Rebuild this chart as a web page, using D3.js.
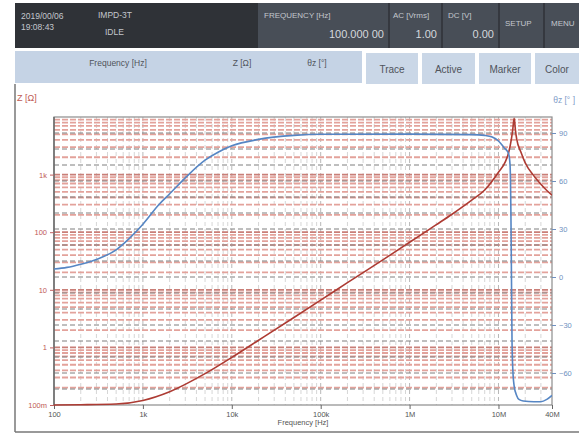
<!DOCTYPE html>
<html>
<head>
<meta charset="utf-8">
<script src="https://cdn.jsdelivr.net/npm/d3@7"></script>
<style>
  body { margin: 0; background: #fff; }
  svg { display: block; font-family: "Liberation Sans", Arial, sans-serif; }
</style>
</head>
<body>
<div id="chart"></div>
<script>
// values
const freqTicks = [100, 1e3, 1e4, 1e5, 1e6, 1e7, 4e7];
const freqTickLabels = ["100", "1k", "10k", "100k", "1M", "10M", "40M"];
const zTicks = [0.1, 1, 10, 100, 1000];
const zTickLabels = ["100m", "1", "10", "100", "1k"];
const thetaTicks = [-60, -30, 0, 30, 60, 90];

const zFreq = [100, 200, 500, 1e3, 2e3, 5e3, 1e4, 2e4, 5e4, 1e5, 2e5, 5e5, 1e6, 2e6, 3e6, 5e6, 7e6, 1e7, 1.2e7, 1.3e7, 1.4e7, 1.45e7, 1.5e7, 1.55e7, 1.6e7, 1.8e7, 2e7, 2.5e7, 3e7, 3.5e7, 4e7];
const zValues = [0.100, 0.101, 0.104, 0.12, 0.17, 0.35, 0.67, 1.33, 3.3, 6.6, 13.3, 33, 67, 135, 205, 360, 540, 1100, 1700, 2400, 4200, 6200, 9500, 6000, 4200, 2400, 1600, 950, 680, 530, 440];

const thetaFreq = [100, 140, 200, 300, 500, 700, 1e3, 1.5e3, 2e3, 3e3, 5e3, 7e3, 1e4, 2e4, 5e4, 1e5, 1e6, 5e6, 7e6, 8.5e6, 1e7, 1.15e7, 1.3e7, 1.35e7, 1.38e7, 1.4e7, 1.42e7, 1.45e7, 1.5e7, 1.6e7, 1.7e7, 1.9e7, 2.5e7, 3e7, 3.5e7, 4e7];
const thetaValues = [5, 6, 8, 11, 17, 24, 33, 45, 52, 62, 73, 78, 82, 86, 88.5, 89.2, 89.3, 89, 88.5, 87.5, 85, 81, 77, 70, 40, 0, -40, -58, -68, -74, -76.5, -77.5, -78, -78, -76.5, -74];

const W = 579, H = 434;
const svg = d3.select("#chart").append("svg")
  .attr("width", W)
  .attr("height", H);

// ---------- header bar ----------
const hdr = svg.append("g");
hdr.append("rect").attr("x", 15).attr("y", 3).attr("width", 243).attr("height", 45).attr("fill", "#2f3237");
hdr.append("rect").attr("x", 258).attr("y", 3).attr("width", W - 258).attr("height", 45).attr("fill", "#484e57");
[389, 442, 499, 544].forEach(x => {
  hdr.append("line").attr("x1", x).attr("x2", x).attr("y1", 3).attr("y2", 48)
    .attr("stroke", "#2f3237").attr("stroke-width", 1.5);
});

const hdrText = [
  { t: "2019/00/06", x: 21, y: 19, s: 8.5 },
  { t: "19:08:43", x: 21, y: 30, s: 8.5 },
  { t: "IMPD-3T", x: 98, y: 18, s: 8.5 },
  { t: "IDLE", x: 105, y: 35, s: 8.5 },
  { t: "FREQUENCY [Hz]", x: 264, y: 18, s: 8 },
  { t: "AC [Vrms]", x: 393, y: 18, s: 8 },
  { t: "DC [V]", x: 448, y: 18, s: 8 },
  { t: "SETUP", x: 505, y: 26, s: 8 },
  { t: "MENU", x: 551, y: 26, s: 8 }
];
hdr.selectAll("text.h").data(hdrText).join("text")
  .attr("x", d => d.x).attr("y", d => d.y)
  .attr("font-size", d => d.s)
  .attr("fill", "#c3c7cd")
  .text(d => d.t);

const hdrVals = [
  { t: "100.000 00", x: 384, y: 38 },
  { t: "1.00", x: 437, y: 38 },
  { t: "0.00", x: 494, y: 38 }
];
hdr.selectAll("text.v").data(hdrVals).join("text")
  .attr("x", d => d.x).attr("y", d => d.y)
  .attr("text-anchor", "end")
  .attr("font-size", 11)
  .attr("fill", "#d4d8dd")
  .text(d => d.t);

// ---------- tab row ----------
const tabs = svg.append("g");
tabs.append("rect").attr("x", 15).attr("y", 51).attr("width", 347).attr("height", 32).attr("fill", "#c5d3e5");
const buttons = [
  { t: "Trace", x: 366, w: 52 },
  { t: "Active", x: 422, w: 53 },
  { t: "Marker", x: 479, w: 52 },
  { t: "Color", x: 535, w: 44 }
];
tabs.selectAll("rect.b").data(buttons).join("rect")
  .attr("x", d => d.x).attr("y", 53).attr("width", d => d.w).attr("height", 31)
  .attr("fill", "#cad7e7");
tabs.selectAll("text.b").data(buttons).join("text")
  .attr("x", d => d.x + d.w / 2).attr("y", 73)
  .attr("text-anchor", "middle")
  .attr("font-size", 10)
  .attr("fill", "#50545b")
  .text(d => d.t);
const colHeads = [
  { t: "Frequency [Hz]", x: 118 },
  { t: "Z [Ω]", x: 242 },
  { t: "θz [°]", x: 317 }
];
tabs.selectAll("text.c").data(colHeads).join("text")
  .attr("x", d => d.x).attr("y", 66)
  .attr("text-anchor", "middle")
  .attr("font-size", 8.5)
  .attr("fill", "#50545b")
  .text(d => d.t);

// ---------- graph panel ----------
svg.append("line").attr("x1", 15).attr("x2", 15).attr("y1", 84).attr("y2", 432).attr("stroke", "#555").attr("stroke-width", 1.2);
svg.append("line").attr("x1", 15).attr("x2", W).attr("y1", 432).attr("y2", 432).attr("stroke", "#777").attr("stroke-width", 1.5);

const plot = { left: 54, right: 552, top: 117, bottom: 405 };

const x = d3.scaleLog().domain([100, 4e7]).range([plot.left, plot.right]);
const yZ = d3.scaleLog().domain([0.1, 1e4]).range([plot.bottom, plot.top]);
const yT = d3.scaleLinear().domain([-80, 100]).range([plot.bottom, plot.top]);

const grid = svg.append("g");

// vertical minor grid (frequency)
const vGrid = [];
for (let e = 2; e <= 7; e++) for (let k = 1; k <= 9; k++) {
  const f = k * Math.pow(10, e);
  if (f > 100 && f < 4e7) vGrid.push(f);
}
grid.selectAll("line.vg").data(vGrid).join("line")
  .attr("x1", d => x(d)).attr("x2", d => x(d))
  .attr("y1", plot.top).attr("y2", plot.bottom)
  .attr("stroke", d => Math.log10(d) % 1 === 0 ? "#b8b8b8" : "#d6d6d6")
  .attr("stroke-width", 1)
  .attr("stroke-dasharray", "4,3");

// horizontal Z grid (log minor)
const zGrid = [];
for (let e = -1; e <= 3; e++) for (let k = 1; k <= 9; k++) {
  const z = k * Math.pow(10, e);
  if (z > 0.1 && z < 1e4) zGrid.push({ z, k });
}
grid.selectAll("line.zg").data(zGrid).join("line")
  .attr("x1", plot.left).attr("x2", plot.right)
  .attr("y1", d => yZ(d.z)).attr("y2", d => yZ(d.z))
  .attr("stroke", d => d.k === 1 ? "#c97f78" : "#e3a29b")
  .attr("stroke-width", 1.8)
  .attr("stroke-dasharray", "6,2");

// horizontal theta grid (every 10 deg)
const tGrid = d3.range(-70, 100, 10);
grid.selectAll("line.tg").data(tGrid).join("line")
  .attr("x1", plot.left).attr("x2", plot.right)
  .attr("y1", d => yT(d)).attr("y2", d => yT(d))
  .attr("stroke", "#7e7e7e")
  .attr("stroke-width", 1)
  .attr("stroke-dasharray", "5,3");

// plot frame
svg.append("rect")
  .attr("x", plot.left).attr("y", plot.top)
  .attr("width", plot.right - plot.left).attr("height", plot.bottom - plot.top)
  .attr("fill", "none").attr("stroke", "#8c8c8c").attr("stroke-width", 1.2);
svg.append("line").attr("x1", plot.left).attr("x2", plot.left).attr("y1", plot.top).attr("y2", plot.bottom)
  .attr("stroke", "#666").attr("stroke-width", 1.4);

// axes
const xAxis = svg.append("g")
  .attr("transform", `translate(0,${plot.bottom})`)
  .call(d3.axisBottom(x).tickValues(freqTicks).tickFormat((d, i) => freqTickLabels[i]).tickSize(4).tickPadding(3));
xAxis.select(".domain").remove();
xAxis.selectAll("line").attr("stroke", "#666");
xAxis.selectAll("text").attr("fill", "#555").attr("font-size", 7.5);

const zAxis = svg.append("g")
  .attr("transform", `translate(${plot.left},0)`)
  .call(d3.axisLeft(yZ).tickValues(zTicks).tickFormat((d, i) => zTickLabels[i]).tickSize(4).tickPadding(3));
zAxis.select(".domain").remove();
zAxis.selectAll("line").attr("stroke", "#c06060");
zAxis.selectAll("text").attr("fill", "#c05a55").attr("font-size", 7.5);

const tAxis = svg.append("g")
  .attr("transform", `translate(${plot.right},0)`)
  .call(d3.axisRight(yT).tickValues(thetaTicks).tickSize(4).tickPadding(3));
tAxis.select(".domain").remove();
tAxis.selectAll("line").attr("stroke", "#6f90c0");
tAxis.selectAll("text").attr("fill", "#6f90c0").attr("font-size", 7.5);

svg.append("text").attr("x", 303).attr("y", 425).attr("text-anchor", "middle")
  .attr("font-size", 7.5).attr("fill", "#555").text("Frequency [Hz]");
svg.append("text").attr("x", 17).attr("y", 101)
  .attr("font-size", 9).attr("fill", "#c05a55").text("Z [Ω]");
svg.append("text").attr("x", 575).attr("y", 103).attr("text-anchor", "end")
  .attr("font-size", 8.5).attr("fill", "#7f9cc8").text("θz [° ]");

// curves
svg.append("clipPath").attr("id", "clip").append("rect")
  .attr("x", plot.left).attr("y", plot.top - 1)
  .attr("width", plot.right - plot.left).attr("height", plot.bottom - plot.top + 2);

const zLine = d3.line().x(d => x(d[0])).y(d => yZ(d[1])).curve(d3.curveMonotoneX);
const tLine = d3.line().x(d => x(d[0])).y(d => yT(d[1])).curve(d3.curveMonotoneX);

svg.append("path")
  .datum(d3.zip(zFreq, zValues))
  .attr("clip-path", "url(#clip)")
  .attr("fill", "none")
  .attr("stroke", "#ad3b33")
  .attr("stroke-width", 1.6)
  .attr("d", zLine);

svg.append("path")
  .datum(d3.zip(thetaFreq, thetaValues))
  .attr("clip-path", "url(#clip)")
  .attr("fill", "none")
  .attr("stroke", "#5686c4")
  .attr("stroke-width", 1.6)
  .attr("d", tLine);
</script>
</body>
</html>
